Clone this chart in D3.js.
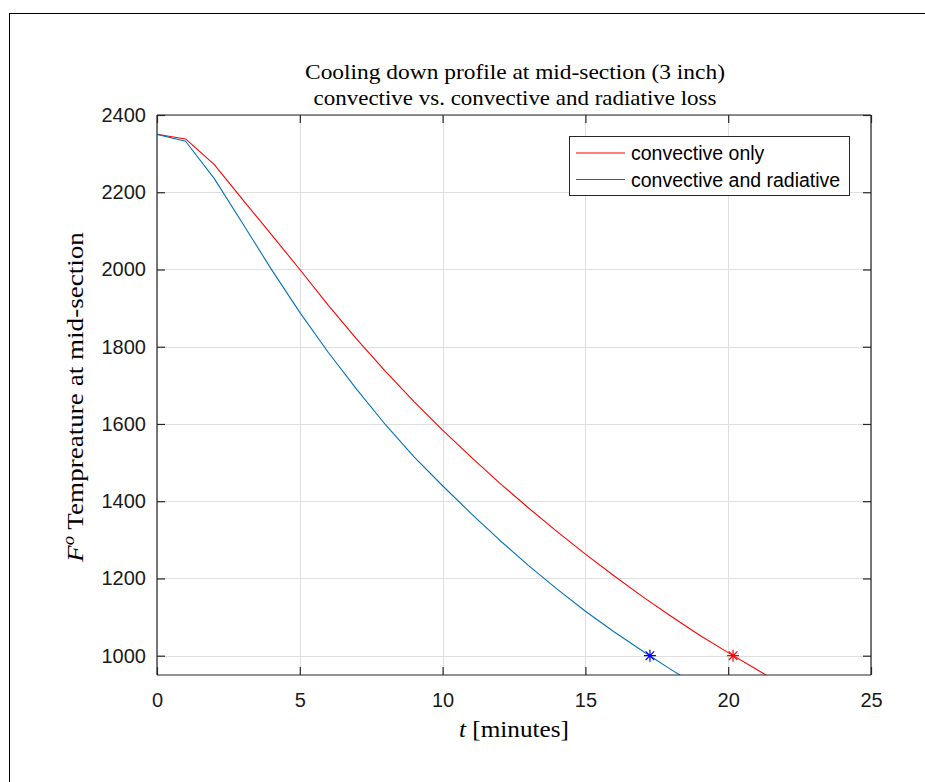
<!DOCTYPE html>
<html>
<head>
<meta charset="utf-8">
<script src="https://cdn.jsdelivr.net/npm/d3@7"></script>
<style>
  html, body { margin: 0; padding: 0; background: #fff; }
  svg { display: block; }
</style>
</head>
<body>
<svg id="chart" width="925" height="782"></svg>
<script>
// ---- data ----
const timeMinutes = [0, 1, 2, 3, 4, 5, 6, 7, 8, 9, 10, 11, 12, 13, 14, 15, 16, 17, 18, 19, 20, 21, 22];
const convectiveOnly = [2350, 2338, 2272, 2181, 2091, 2000, 1907, 1819, 1736, 1658, 1584, 1514, 1447, 1383, 1322, 1263, 1207, 1153, 1102, 1053, 1008, 964, 921];
const convectiveRadiative = [2350, 2332, 2236, 2119, 2001, 1889, 1785, 1689, 1598, 1515, 1440, 1368, 1299, 1234, 1173, 1115, 1062, 1012, 964, 918, 874, 832, 792];
const markerTimes = [20.17, 17.26];
const markerTemps = [1000, 1000];
const seriesNames = ["convective only", "convective and radiative"];
const xTicks = [0, 5, 10, 15, 20, 25];
const yTicks = [1000, 1200, 1400, 1600, 1800, 2000, 2200, 2400];
const xDomain = [0, 25];
const yDomain = [950, 2400];
const titleLines = ["Cooling down profile at mid-section (3 inch)", "convective vs. convective and radiative loss"];

const lineColors = ["#FF0000", "#0072BD"];
const markerColors = ["#FF0000", "#0000FF"];
const axisColor = "#262626";
const gridColor = "#dfdfdf";

const svg = d3.select("#chart");
const m = { left: 157, right: 871, top: 115, bottom: 675 };

// figure border
svg.append("rect").attr("x", 9.5).attr("y", 13.5).attr("width", 1000).attr("height", 1000)
  .attr("fill", "none").attr("stroke", "#000").attr("stroke-width", 1);

const x = d3.scaleLinear().domain(xDomain).range([m.left, m.right]);
const y = d3.scaleLinear().domain(yDomain).range([m.bottom, m.top]);

// grid
const grid = svg.append("g");
grid.selectAll(".gx").data(xTicks).join("line")
  .attr("x1", d => Math.round(x(d)) + 0.5).attr("x2", d => Math.round(x(d)) + 0.5)
  .attr("y1", m.top).attr("y2", m.bottom)
  .attr("stroke", gridColor).attr("stroke-width", 1);
grid.selectAll(".gy").data(yTicks).join("line")
  .attr("y1", d => Math.round(y(d)) + 0.5).attr("y2", d => Math.round(y(d)) + 0.5)
  .attr("x1", m.left).attr("x2", m.right)
  .attr("stroke", gridColor).attr("stroke-width", 1);

// clip
svg.append("clipPath").attr("id", "clip").append("rect")
  .attr("x", m.left).attr("y", m.top).attr("width", m.right - m.left).attr("height", m.bottom - m.top);

const line = d3.line().x((d, i) => x(timeMinutes[i])).y(d => y(d));
const plot = svg.append("g").attr("clip-path", "url(#clip)");
[convectiveOnly, convectiveRadiative].forEach((s, k) => {
  plot.append("path").datum(s).attr("d", line)
    .attr("fill", "none").attr("stroke", lineColors[k]).attr("stroke-width", 1.1)
    .attr("stroke-linejoin", "round");
});

// star markers
const r = 6;
const starPath = `M${-r},0L${r},0M0,${-r}L0,${r}M${-r*0.72},${-r*0.72}L${r*0.72},${r*0.72}M${-r*0.72},${r*0.72}L${r*0.72},${-r*0.72}`;
markerTimes.forEach((t, k) => {
  svg.append("path").attr("d", starPath)
    .attr("transform", `translate(${x(t)},${y(markerTemps[k])})`)
    .attr("stroke", markerColors[k]).attr("stroke-width", 1.2).attr("fill", "none");
});

// axes (box with inward ticks)
const tickFont = "'Liberation Sans', Arial, Helvetica, sans-serif";
const xAxisB = d3.axisBottom(x).tickValues(xTicks).tickSize(-8).tickPadding(18).tickFormat(d3.format("d"));
const xAxisT = d3.axisTop(x).tickValues(xTicks).tickSize(-8).tickFormat("");
const yAxisL = d3.axisLeft(y).tickValues(yTicks).tickSize(-8).tickPadding(11).tickFormat(d3.format("d"));
const yAxisR = d3.axisRight(y).tickValues(yTicks).tickSize(-8).tickFormat("");

function styleAxis(g) {
  g.select(".domain").attr("stroke", axisColor).attr("stroke-width", 1.2);
  g.selectAll(".tick line").attr("stroke", axisColor).attr("stroke-width", 1.2);
  g.selectAll(".tick text").attr("fill", "#1a1a1a").style("font-family", tickFont).style("font-size", "20px");
}
svg.append("g").attr("transform", `translate(0,${m.bottom})`).call(xAxisB).call(styleAxis).call(g => g.select(".domain").attr("d", `M${m.left},0H${m.right}`));
svg.append("g").attr("transform", `translate(0,${m.top})`).call(xAxisT).call(styleAxis).call(g => g.select(".domain").attr("d", `M${m.left},0H${m.right}`));
svg.append("g").attr("transform", `translate(${m.left},0)`).call(yAxisL).call(styleAxis).call(g => g.select(".domain").attr("d", `M0,${m.top}V${m.bottom}`));
svg.append("g").attr("transform", `translate(${m.right},0)`).call(yAxisR).call(styleAxis).call(g => g.select(".domain").attr("d", `M0,${m.top}V${m.bottom}`));

// serif text stretched horizontally to approximate Computer Modern widths
const serif = "'Liberation Serif', 'Times New Roman', serif";
function stretch(textSel, cxp, cyp, rot, targetW) {
  const w = textSel.node().getComputedTextLength();
  const s = targetW / w;
  textSel.attr("transform", `translate(${cxp},${cyp}) rotate(${rot}) scale(${s},1)`);
}
const cx = (m.left + m.right) / 2;
const titleW = [420, 403];
const titleY = [79, 105];
titleLines.forEach((t, i) => {
  const tt = svg.append("text").attr("text-anchor", "middle")
    .style("font-family", serif).style("font-size", "21.5px").attr("fill", "#000").text(t);
  stretch(tt, 515, titleY[i], 0, titleW[i]);
});

// x label
const xl = svg.append("text").attr("text-anchor", "middle")
  .style("font-family", serif).style("font-size", "23px").attr("fill", "#000");
xl.append("tspan").style("font-style", "italic").text("t");
xl.append("tspan").text(" [minutes]");
stretch(xl, cx, 737, 0, 110);

// y label
const yl = svg.append("text").attr("text-anchor", "middle")
  .style("font-family", serif).style("font-size", "23px").attr("fill", "#000");
yl.append("tspan").style("font-style", "italic").text("F");
yl.append("tspan").style("font-style", "italic").style("font-size", "16px").attr("dy", -9).text("o");
yl.append("tspan").attr("dy", 9).text(" Tempreature at mid-section");
stretch(yl, 83, 397, -90, 330);

// legend
const lg = svg.append("g");
lg.append("rect").attr("x", 569.5).attr("y", 136.5).attr("width", 280).attr("height", 59)
  .attr("fill", "#fff").attr("stroke", axisColor).attr("stroke-width", 1);
seriesNames.forEach((name, k) => {
  const ly = 153 + k * 26.5;
  lg.append("line").attr("x1", 576).attr("x2", 625).attr("y1", ly).attr("y2", ly)
    .attr("stroke", lineColors[k]).attr("stroke-width", 1.1);
  lg.append("text").attr("x", 631).attr("y", ly + 7)
    .style("font-family", tickFont).style("font-size", "19.5px").attr("fill", "#000").text(name);
});
</script>
</body>
</html>
